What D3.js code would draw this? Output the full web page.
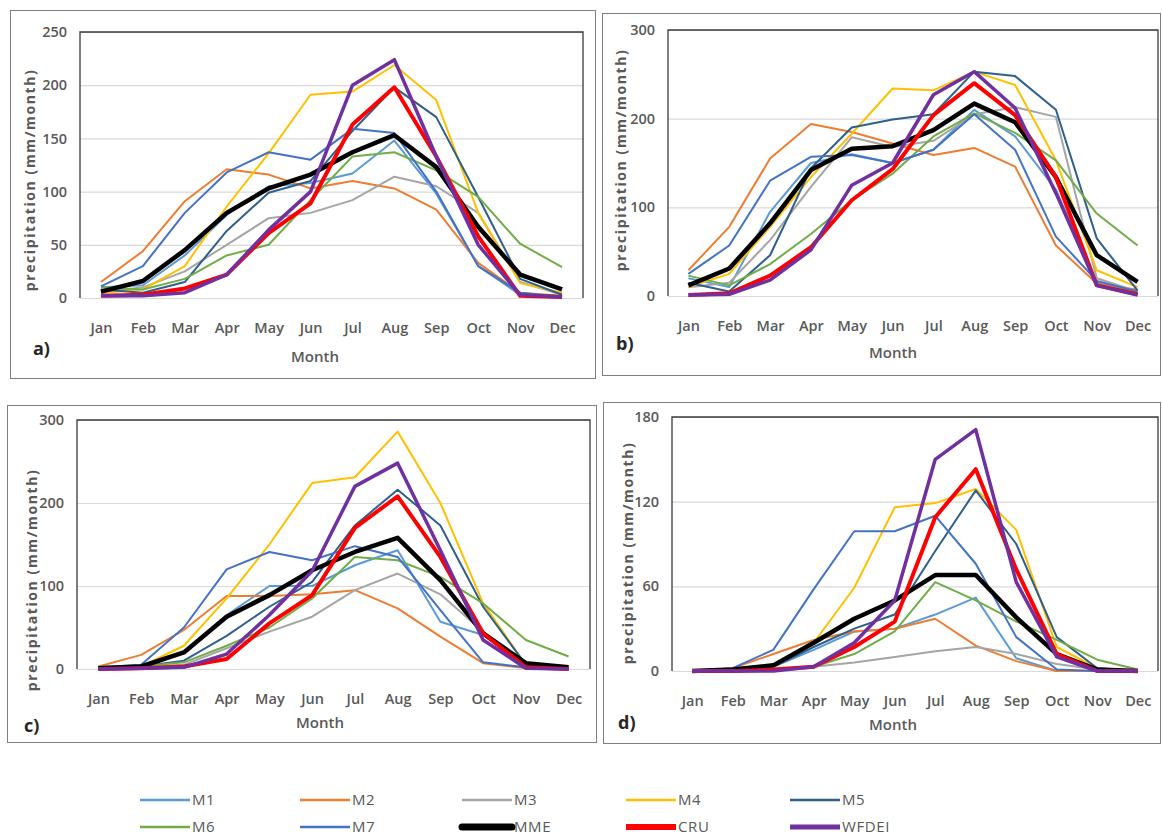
<!DOCTYPE html>
<html>
<head>
<meta charset="utf-8">
<script src="https://cdn.jsdelivr.net/npm/d3@7"></script>
<style>
  body { margin: 0; background: #fff; }
  svg { display: block; font-family: "Open Sans", sans-serif; }
</style>
</head>
<body>
<svg id="chart" width="1162" height="839"></svg>
<script>
const months = ["Jan", "Feb", "Mar", "Apr", "May", "Jun", "Jul", "Aug", "Sep", "Oct", "Nov", "Dec"];
const seriesNames = ["M1", "M2", "M3", "M4", "M5", "M6", "M7", "MME", "CRU", "WFDEI"];
const seriesColors = ["#5B9BD5", "#ED7D31", "#A5A5A5", "#FFC000", "#2F5F8C", "#70AD47", "#4472C4", "#000000", "#FF0000", "#7030A0"];

// one row per series, same order as seriesNames
const panelA = [
  [10, 12, 40, 78, 105, 108, 117, 148, 98, 30, 3, 0],
  [15, 44, 91, 121, 116, 103, 110, 103, 83, 33, 5, 2],
  [5, 10, 25, 50, 75, 80, 92, 114, 105, 80, 15, 3],
  [5, 8, 30, 86, 136, 191, 194, 219, 186, 80, 14, 5],
  [8, 5, 15, 63, 99, 110, 157, 198, 170, 95, 18, 3],
  [10, 8, 18, 40, 50, 92, 133, 137, 120, 95, 51, 29],
  [11, 30, 80, 118, 137, 130, 159, 155, 100, 30, 5, 1],
  [6, 16, 45, 80, 103, 116, 137, 153, 123, 67, 22, 8],
  [2, 3, 9, 22, 61, 89, 163, 198, 133, 58, 2, 1],
  [2, 2, 5, 22, 64, 100, 200, 224, 133, 50, 3, 1]
];
const panelB = [
  [20, 10, 95, 150, 160, 150, 165, 210, 180, 120, 15, 3],
  [29, 78, 155, 194, 185, 172, 159, 167, 146, 57, 14, 7],
  [10, 15, 63, 123, 179, 168, 175, 205, 213, 202, 20, 5],
  [10, 25, 78, 134, 183, 234, 232, 253, 238, 153, 29, 10],
  [15, 5, 46, 144, 190, 199, 205, 253, 248, 210, 65, 6],
  [23, 12, 36, 70, 108, 138, 180, 206, 184, 153, 93, 57],
  [25, 57, 130, 157, 159, 150, 165, 205, 165, 67, 17, 5],
  [12, 31, 82, 142, 166, 169, 187, 217, 196, 134, 46, 16],
  [1, 3, 23, 55, 108, 143, 204, 240, 204, 134, 12, 2],
  [1, 2, 18, 52, 125, 150, 227, 253, 212, 116, 12, 1]
];
const panelC = [
  [0, 3, 20, 65, 100, 100, 125, 143, 57, 41, 2, 0],
  [3, 17, 47, 88, 88, 90, 95, 73, 39, 7, 1, 0],
  [1, 2, 5, 25, 45, 63, 95, 115, 90, 45, 2, 0],
  [2, 3, 28, 85, 150, 224, 231, 286, 200, 79, 5, 1],
  [0, 3, 10, 40, 75, 105, 173, 216, 173, 75, 5, 1],
  [3, 3, 8, 28, 50, 85, 135, 131, 111, 79, 35, 15],
  [2, 5, 50, 120, 141, 131, 148, 135, 71, 8, 2, 0],
  [1, 3, 20, 63, 89, 119, 141, 158, 107, 43, 7, 2],
  [0, 1, 3, 12, 55, 89, 170, 208, 135, 43, 2, 0],
  [0, 1, 2, 18, 65, 118, 220, 248, 143, 35, 1, 0]
];
const panelD = [
  [0, 1, 3, 15, 28, 30, 40, 52, 9, 0, 0, 0],
  [0, 2, 12, 22, 28, 30, 37, 18, 7, 0, 0, 0],
  [0, 0, 1, 3, 6, 10, 14, 17, 12, 5, 1, 0],
  [0, 1, 3, 20, 59, 116, 119, 129, 100, 17, 2, 0],
  [0, 1, 3, 17, 30, 40, 85, 128, 90, 24, 2, 0],
  [0, 0, 1, 3, 12, 28, 63, 50, 35, 22, 8, 1],
  [0, 2, 15, 58, 99, 99, 110, 76, 24, 1, 0, 0],
  [0, 1, 4, 20, 37, 50, 68, 68, 38, 12, 1, 0],
  [0, 0, 1, 3, 17, 35, 109, 143, 72, 12, 0, 0],
  [0, 0, 0, 3, 20, 50, 150, 171, 63, 10, 0, 0]
];
const yTicksA = [0, 50, 100, 150, 200, 250];
const yTicksB = [0, 100, 200, 300];
const yTicksC = [0, 100, 200, 300];
const yTicksD = [0, 60, 120, 180];
const panelLabels = ["a)", "b)", "c)", "d)"];

const lineWidth = (name) => (name === "MME" ? 4.5 : name === "CRU" ? 4 : name === "WFDEI" ? 3.5 : 2);
const legendWidth = (name) => (name === "MME" ? 7 : name === "CRU" ? 6 : name === "WFDEI" ? 5 : 2.5);

const svg = d3.select("#chart");
const textGray = "#595959";

const layouts = [
  { box: [10, 10, 585, 368], left: 80, top: 32, right: 583, bottom: 298, month: [315, 362], tag: [33, 355], title: [30, 180] },
  { box: [602, 13, 558, 362], left: 668, top: 30, right: 1158, bottom: 296, month: [893, 358], tag: [616, 350], title: [621, 160] },
  { box: [7, 405, 589, 337], left: 77, top: 420, right: 590, bottom: 669, month: [320, 728], tag: [24, 732], title: [32, 580] },
  { box: [603, 402, 557, 341], left: 672, top: 417, right: 1158, bottom: 671, month: [893, 730], tag: [618, 729], title: [628, 553] }
];

function drawPanel(data, ticks, layout, tag) {
  const g = svg.append("g");
  const [bx, by, bw, bh] = layout.box;
  g.append("rect")
    .attr("x", bx + 0.5).attr("y", by + 0.5)
    .attr("width", bw).attr("height", bh)
    .attr("fill", "none").attr("stroke", "#7f7f7f").attr("stroke-width", 1);

  const w = layout.right - layout.left;
  const x = d3.scalePoint().domain(months).range([layout.left, layout.right]).padding(0.5);
  const y = d3.scaleLinear().domain([0, d3.max(ticks)]).range([layout.bottom, layout.top]);

  // gridlines
  g.append("g")
    .attr("transform", `translate(${layout.left},0)`)
    .call(d3.axisLeft(y).tickValues(ticks).tickSize(-w).tickFormat(""))
    .call((s) => s.select(".domain").remove())
    .selectAll("line")
    .attr("stroke", "#d9d9d9").attr("stroke-width", 1.2);

  // plot frame (top, left, right)
  g.append("path")
    .attr("d", `M${layout.left},${layout.bottom}V${layout.top}H${layout.right}V${layout.bottom}`)
    .attr("fill", "none").attr("stroke", "#3a3a3a").attr("stroke-width", 1.3);

  const yAxis = g.append("g")
    .attr("transform", `translate(${layout.left},0)`)
    .call(d3.axisLeft(y).tickValues(ticks).tickSize(0).tickPadding(13));
  yAxis.select(".domain").remove();
  yAxis.selectAll("text")
    .style("font-size", "14.5px").style("font-weight", "600").style("fill", textGray)
    .style("font-family", "'Open Sans', sans-serif");

  const xAxis = g.append("g")
    .attr("transform", `translate(0,${layout.bottom})`)
    .call(d3.axisBottom(x).tickSize(0).tickPadding(25));
  xAxis.select(".domain").remove();
  xAxis.selectAll("text")
    .style("font-size", "14.5px").style("font-weight", "600").style("fill", textGray)
    .style("font-family", "'Open Sans', sans-serif");

  const line = d3.line().x((d, i) => x(months[i])).y((d) => y(d));
  g.append("g")
    .selectAll("path")
    .data(data)
    .join("path")
    .attr("d", (d) => line(d))
    .attr("fill", "none")
    .attr("stroke", (d, i) => seriesColors[i])
    .attr("stroke-width", (d, i) => lineWidth(seriesNames[i]))
    .attr("stroke-linejoin", "round");

  g.append("text")
    .attr("x", layout.month[0]).attr("y", layout.month[1])
    .attr("text-anchor", "middle")
    .style("font-size", "15px").style("font-weight", "600").style("fill", textGray)
    .text("Month");

  g.append("text")
    .attr("x", layout.tag[0]).attr("y", layout.tag[1])
    .style("font-size", "18px").style("font-weight", "700").style("fill", "#262626")
    .text(tag);

  g.append("text")
    .attr("transform", `translate(${layout.title[0]},${layout.title[1]}) rotate(-90)`)
    .attr("text-anchor", "middle")
    .attr("dy", "0.35em")
    .style("font-size", "14px").style("font-weight", "700").style("fill", textGray)
    .style("letter-spacing", "1.6px")
    .text("precipitation (mm/month)");
}

drawPanel(panelA, yTicksA, layouts[0], panelLabels[0]);
drawPanel(panelB, yTicksB, layouts[1], panelLabels[1]);
drawPanel(panelC, yTicksC, layouts[2], panelLabels[2]);
drawPanel(panelD, yTicksD, layouts[3], panelLabels[3]);

// legend, 5 columns x 2 rows
const legendCols = [140, 300, 462, 626, 790];
const legendRows = [800, 827];
const legend = svg.append("g");
seriesNames.forEach((name, i) => {
  const lx = legendCols[i % 5];
  const ly = legendRows[Math.floor(i / 5)];
  legend.append("line")
    .attr("x1", lx).attr("x2", lx + 50)
    .attr("y1", ly).attr("y2", ly)
    .attr("stroke", seriesColors[i])
    .attr("stroke-width", legendWidth(name))
    .attr("stroke-linecap", name === "MME" ? "round" : "butt");
  legend.append("text")
    .attr("x", lx + 52).attr("y", ly)
    .attr("dy", "0.36em")
    .style("font-size", "15px").style("fill", textGray)
    .style("letter-spacing", "0.6px")
    .text(name);
});
</script>
</body>
</html>
